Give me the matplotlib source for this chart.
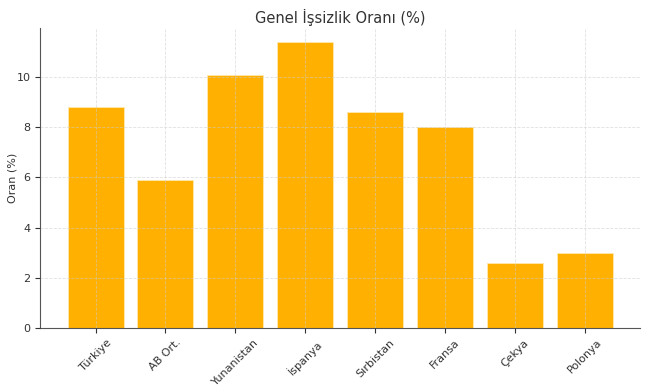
import matplotlib
matplotlib.use("Agg")
import matplotlib.pyplot as plt

countries = ["Türkiye", "AB Ort.", "Yunanistan", "İspanya", "Sırbistan", "Fransa", "Çekya", "Polonya"]
rates = [8.8, 5.9, 10.1, 11.4, 8.6, 8.0, 2.6, 3.0]

plt.rcParams["font.family"] = ["DejaVu Sans"]


def main():
    fig, ax = plt.subplots(figsize=(6.5, 3.9), dpi=100)
    ax.bar(countries, rates, color="#FFB000", edgecolor="#FFE9B0", linewidth=0.6, width=0.8)

    ax.set_title("Genel İşsizlik Oranı (%)", fontsize=10.5, color="#333333", pad=4)
    ax.set_ylabel("Oran (%)", fontsize=8, color="#333333", labelpad=-1)
    ax.tick_params(axis="both", labelsize=8, colors="#333333")
    ax.set_xticks(range(len(countries)))
    ax.set_xticklabels(countries, rotation=45, ha="center")

    ax.set_axisbelow(False)
    ax.grid(True, linestyle="--", linewidth=0.6, color="#cccccc", alpha=0.6)

    for side in ("top", "right"):
        ax.spines[side].set_visible(False)
    for side in ("left", "bottom"):
        ax.spines[side].set_color("#555555")

    fig.subplots_adjust(left=0.062, right=0.985, top=0.928, bottom=0.16)
    fig.savefig("out.png", dpi=100)


if __name__ == "__main__":
    main()
